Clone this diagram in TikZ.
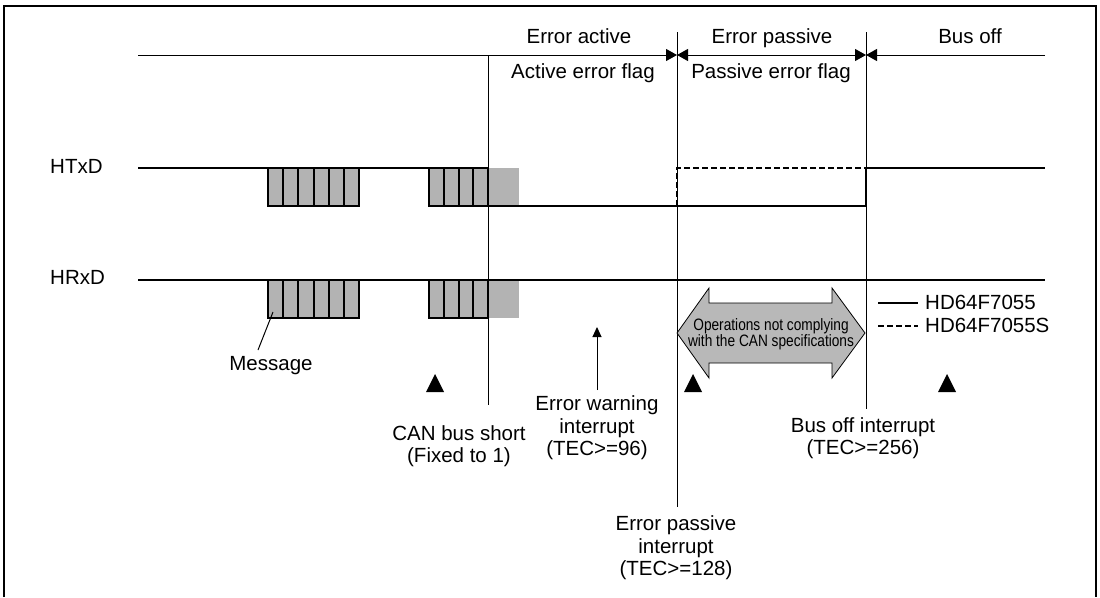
\documentclass[tikz,border=0pt]{standalone}
\usepackage{fontspec}
\setmainfont{Liberation Sans}
\newfontfamily\narrowfont[FakeStretch=0.83]{Liberation Sans}
\usetikzlibrary{arrows.meta}
\definecolor{blockgray}{HTML}{B3B3B3}
\definecolor{arrowgray}{HTML}{B8B8B8}
\begin{document}
\begin{tikzpicture}[x=1pt,y=-1pt,
  lbl/.style={font=\fontsize{20.5}{22.5}\selectfont, inner sep=0pt, align=center},
  sig/.style={line width=2pt},
  thinline/.style={line width=1pt},
  cell/.style={fill=blockgray, draw=black, line width=2pt},
  tri/.style={fill=black, draw=none},
  tick/.style={-{Triangle[length=11pt,width=12pt]}},
  legtext/.style={font=\fontsize{20.5}{22.5}\selectfont, inner sep=0pt, anchor=base west},
]
\useasboundingbox (0,0) rectangle (1100,597);
% frame
\draw[line width=2.5pt] (4,597) -- (4,6) -- (1096,6) -- (1096,597);

% phase boundaries
\coordinate (t0) at (138,55);
\coordinate (b0) at (488,55);
\coordinate (b1) at (677,55);
\coordinate (b2) at (866,55);
\coordinate (t3) at (1045,55);
\draw[thinline] (b0) -- (488,405);
\draw[thinline] (677,32) -- (677,507);
\draw[thinline] (866,32) -- (866,409);
\draw[thinline, tick] (t0) -- (b1);
\draw[thinline, {Triangle[length=11pt,width=12pt]}-{Triangle[length=11pt,width=12pt]}] (b1) -- (b2);
\draw[thinline, tick] (t3) -- (b2);

\node[lbl, anchor=base] (ea) at (579,43) {Error active};
\node[lbl, anchor=base] (ep) at (772,43) {Error passive};
\node[lbl, anchor=base] (bo) at (970,43) {Bus off};
\node[lbl, anchor=base] (aef) at (583,78) {Active error flag};
\node[lbl, anchor=base] (pef) at (771,78) {Passive error flag};

% signal names
\node[lbl, anchor=base west] (htxd) at (50,173.5) {HTxD};
\node[lbl, anchor=base west] (hrxd) at (50,284.5) {HRxD};

% grey error regions
\fill[blockgray] (488,168) rectangle (519,206);
\fill[blockgray] (488,280) rectangle (519,318);

% HTxD
\draw[sig] (138,168) -- (268,168);
\draw[sig] (359,168) -- (429,168);
\draw[sig, dash pattern=on 6pt off 3pt] (677,206) -- (677,168) -- (866,168);
\draw[sig] (488,206) -- (866,206) -- (866,168) -- (1045,168);
% HRxD
\draw[sig] (138,280) -- (1045,280);

% message blocks
\foreach \y in {168,280}{
  \foreach \i in {0,...,5}{
    \draw[cell] ({268+\i*15.1667},\y) rectangle ({268+(\i+1)*15.1667},\y+38);
  }
  \foreach \i in {0,...,3}{
    \draw[cell] ({429+\i*14.825},\y) rectangle ({429+(\i+1)*14.825},\y+38);
  }
}

% message pointer
\node[lbl, anchor=base] (msg) at (271,370) {Message};
\coordinate (mp) at (273,312);
\draw[thinline] (mp) -- (258,350);

% operations arrow
\draw[fill=arrowgray, line width=0.8pt] (677,333) -- (709,288) -- (709,303) -- (832,303) -- (832,288)
  -- (865,333) -- (832,378) -- (832,363) -- (709,363) -- (709,378) -- cycle;
\node[font=\narrowfont\fontsize{16.5}{15.5}\selectfont, inner sep=0pt, align=center] (ops) at (771,334)
  {Operations not complying\\with the CAN specifications};

% legend
\draw[sig] (878,303) -- (918,303);
\node[legtext] (l1) at (925,309.5) {HD64F7055};
\draw[sig, dash pattern=on 6pt off 3pt] (878,326) -- (918,326);
\node[legtext] (l2) at (925,332) {HD64F7055S};

% triangles
\foreach \cx in {435,693,947}{
  \fill[tri] (\cx-9,392) -- (\cx+9,392) -- (\cx,374) -- cycle;
}

% event labels
\node[lbl] (can) at (459,446) {CAN bus short\\(Fixed to 1)};
\node[lbl] (ew) at (597,428) {Error warning\\interrupt\\(TEC>=96)};
\coordinate (ewtip) at (597,327);
\draw[thinline, -{Triangle[length=10pt,width=9pt]}] (597,390) -- (ewtip);
\node[lbl] (epi) at (676,548) {Error passive\\interrupt\\(TEC>=128)};
\node[lbl] (boi) at (863,438) {Bus off interrupt\\(TEC>=256)};
\end{tikzpicture}
\end{document}
